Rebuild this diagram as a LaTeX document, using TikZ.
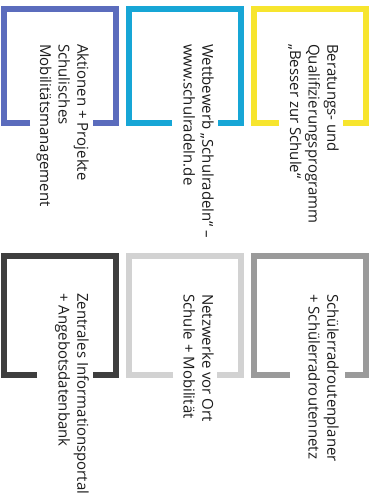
\documentclass[tikz,border=0pt]{standalone}
\usepackage{fontspec}
\setmainfont{Open Sans}
\definecolor{cyellow}{HTML}{F7E52E}
\definecolor{ccyan}{HTML}{17A6D6}
\definecolor{cblue}{HTML}{5B6CBD}
\definecolor{cgray}{HTML}{9A9A9A}
\definecolor{clight}{HTML}{D2D2D2}
\definecolor{cdark}{HTML}{3E3E3E}
\definecolor{textgray}{HTML}{1C1C1C}
\begin{document}
\begin{tikzpicture}[x=1pt,y=-1pt,
  bracket/.style={line width=5.5pt,line join=miter,line cap=butt},
  lbl/.style={rotate=-90,anchor=north west,inner sep=0pt,align=left,
    font=\fontsize{15}{18.7}\selectfont,text=textgray}]
\useasboundingbox (0,0) rectangle (374,499);
\fill[white] (0,0) rectangle (374,499);
% top row
\draw[bracket,cyellow] (279,123) -- (254,123) -- (254,9) -- (366,9) -- (366,123) -- (343,123);
\draw[bracket,ccyan]   (172,123) -- (129,123) -- (129,9) -- (241,9) -- (241,123) -- (218,123);
\draw[bracket,cblue]   (30,123)  -- (4,123)   -- (4,9)   -- (116,9) -- (116,123) -- (93,123);
% bottom row
\draw[bracket,cgray]   (290,375) -- (254,375) -- (254,256) -- (366,256) -- (366,375) -- (345,375);
\draw[bracket,clight]  (173,375) -- (129,375) -- (129,256) -- (241,256) -- (241,375) -- (217,375);
\draw[bracket,cdark]   (37,375)  -- (4,375)   -- (4,256)   -- (116,256) -- (116,375) -- (93,375);
% labels
\node[lbl] (t1) at (339,44) {Beratungs- und\\Qualifizierungsprogramm\\„Besser zur Schule“};
\node[lbl] (t2) at (214,44) {Wettbewerb „Schulradeln“ –\\www.schulradeln.de};
\node[lbl] (t3) at (89,44) {Aktionen + Projekte\\Schulisches\\Mobilitätsmanagement};
\node[lbl] (t4) at (339,294) {Schülerradroutenplaner\\+ Schülerradroutennetz};
\node[lbl] (t5) at (214,294) {Netzwerke vor Ort\\Schule + Mobilität};
\node[lbl] (t6) at (89,293) {Zentrales Informationsportal\\+ Angebotsdatenbank};
\end{tikzpicture}
\end{document}
